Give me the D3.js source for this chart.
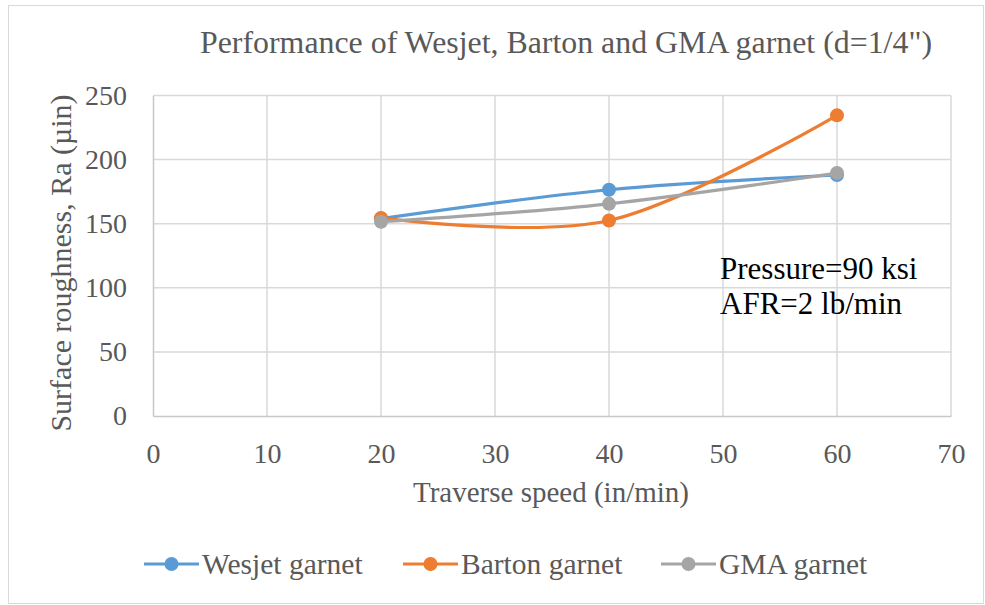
<!DOCTYPE html>
<html><head><meta charset="utf-8">
<script src="https://cdn.jsdelivr.net/npm/d3@7"></script>
<style>body{margin:0;background:#fff}svg{display:block}text{font-family:"Liberation Serif","Times New Roman",serif}</style>
</head><body>
<svg id="c" width="985" height="605"></svg>
<script>
const speeds = [20, 40, 60];
const wesjet = [154, 176.5, 188];
const barton = [154.5, 152.5, 234.5];
const gma = [151.5, 165.5, 189.5];
const seriesNames = ["Wesjet garnet", "Barton garnet", "GMA garnet"];
const seriesColors = ["#5b9bd5", "#ed7d31", "#a5a5a5"];
const xTicks = [0, 10, 20, 30, 40, 50, 60, 70];
const yTicks = [0, 50, 100, 150, 200, 250];
const titleText = "Performance of Wesjet, Barton and GMA garnet (d=1/4\")";
const xLabel = "Traverse speed (in/min)";
const yLabel = "Surface roughness, Ra (µin)";
const notes = ["Pressure=90 ksi", "AFR=2 lb/min"];

const svg = d3.select("#c");
svg.append("rect").attr("x", 8.5).attr("y", 5.5).attr("width", 975).attr("height", 598)
  .attr("fill", "#fff").attr("stroke", "#d9d9d9");

const x = d3.scaleLinear().domain([0, 70]).range([153, 951]);
const y = d3.scaleLinear().domain([0, 250]).range([416, 95.5]);

// gridlines
const g = svg.append("g");
g.selectAll(".hg").data(yTicks.filter(d => d > 0)).join("line")
  .attr("x1", x(0)).attr("x2", x(70)).attr("y1", d => y(d)).attr("y2", d => y(d))
  .attr("stroke", "#d9d9d9").attr("stroke-width", 1.5);
g.selectAll(".vg").data(xTicks.filter(d => d > 0)).join("line")
  .attr("x1", d => x(d)).attr("x2", d => x(d)).attr("y1", y(0)).attr("y2", y(250))
  .attr("stroke", "#d9d9d9").attr("stroke-width", 1.5);

// axes
const xa = svg.append("g").attr("transform", `translate(0,${y(0)})`)
  .call(d3.axisBottom(x).tickValues(xTicks).tickSize(0).tickPadding(27));
xa.select(".domain").attr("stroke", "#c8c8c8").attr("stroke-width", 1.5);
xa.selectAll("text").attr("font-size", 28).attr("fill", "#595959").attr("font-family", "Liberation Serif");

const ya = svg.append("g").attr("transform", `translate(${x(0)},0)`)
  .call(d3.axisLeft(y).tickValues(yTicks).tickSize(0).tickPadding(26));
ya.select(".domain").attr("stroke", "#c8c8c8").attr("stroke-width", 1.5);
ya.selectAll("text").attr("font-size", 28).attr("fill", "#595959").attr("font-family", "Liberation Serif");

// title and labels
svg.append("text").attr("x", 566).attr("y", 53).attr("text-anchor", "middle")
  .attr("font-size", 31).attr("fill", "#595959")
  .attr("textLength", 732).attr("lengthAdjust", "spacingAndGlyphs").text(titleText);
svg.append("text").attr("x", 551).attr("y", 502).attr("text-anchor", "middle")
  .attr("font-size", 29).attr("fill", "#595959").text(xLabel);
svg.append("text").attr("transform", "translate(71,263) rotate(-90)").attr("text-anchor", "middle")
  .attr("font-size", 30).attr("fill", "#595959").text(yLabel);

// notes
notes.forEach((t, i) => svg.append("text").attr("x", 720).attr("y", 279 + i * 35)
  .attr("font-size", 31).attr("fill", "#000").text(t));

// series
const allSeries = [wesjet, barton, gma];
const line = d3.line().x((d, i) => x(speeds[i])).y(d => y(d)).curve(d3.curveCardinal.tension(0));
allSeries.forEach((s, k) => {
  svg.append("path").attr("d", line(s)).attr("fill", "none")
    .attr("stroke", seriesColors[k]).attr("stroke-width", 3.2).attr("stroke-linecap", "round");
  svg.selectAll(null).data(s).join("circle")
    .attr("cx", (d, i) => x(speeds[i])).attr("cy", d => y(d)).attr("r", 7)
    .attr("fill", seriesColors[k]);
});

// legend
const legX = [144, 403, 661];
seriesNames.forEach((n, k) => {
  const lg = svg.append("g").attr("transform", `translate(${legX[k]},564)`);
  lg.append("line").attr("x1", 0).attr("x2", 55).attr("y1", 0).attr("y2", 0)
    .attr("stroke", seriesColors[k]).attr("stroke-width", 3.2);
  lg.append("circle").attr("cx", 27.5).attr("cy", 0).attr("r", 7).attr("fill", seriesColors[k]);
  lg.append("text").attr("x", 58).attr("y", 10).attr("font-size", 29.5).attr("fill", "#595959").text(n);
});
</script>
</body></html>
